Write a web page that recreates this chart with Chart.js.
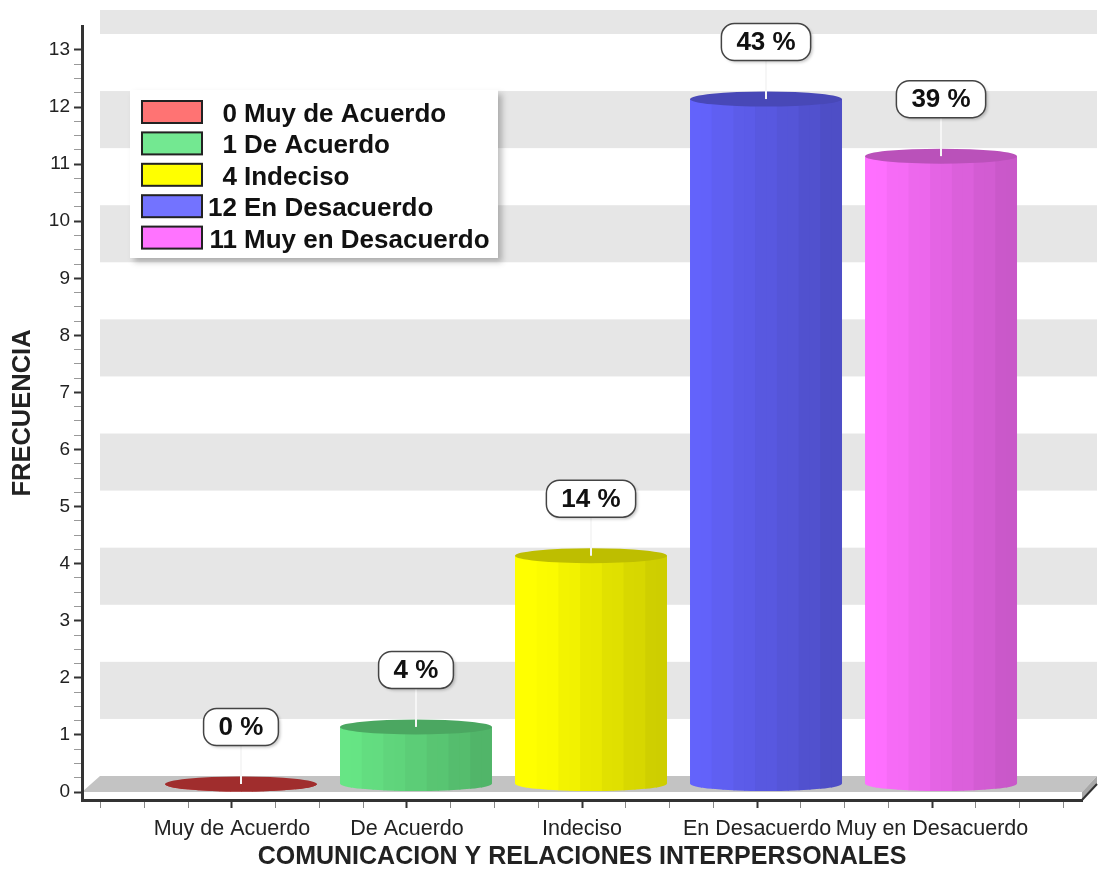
<!DOCTYPE html>
<html>
<head>
<meta charset="utf-8">
<title>Comunicación y relaciones interpersonales</title>
<script src="https://cdn.jsdelivr.net/npm/chart.js@4.4.1/dist/chart.umd.min.js"></script>
<style>
  html, body { margin: 0; padding: 0; background: #fff; }
  canvas { display: block; }
</style>
</head>
<body>
<canvas id="freqChart" width="1099" height="872"></canvas>
<script>
const categories = ['Muy de Acuerdo', 'De Acuerdo', 'Indeciso', 'En Desacuerdo', 'Muy en Desacuerdo'];
const counts = [0, 1, 4, 12, 11];
const yTickLabels = [0, 1, 2, 3, 4, 5, 6, 7, 8, 9, 10, 11, 12, 13];

const total = counts.reduce((a, b) => a + b, 0);
const percents = counts.map(c => Math.round(c / total * 100));

// legend swatches and cylinder body colours
const legendColors = ['#ff7373', '#73e891', '#ffff00', '#7373ff', '#ff73ff'];
const bodyRGB = [[205, 58, 58], [96, 214, 124], [244, 244, 0], [92, 92, 234], [238, 104, 238]];

const FONT = '"Liberation Sans", Arial, sans-serif';
const DX = 18, DY = 16;   // depth of the 3D box
const MINOR = 0.25;

Chart.defaults.font.family = FONT;

function minorTicks(from, to) {
    const out = [];
    for (let k = Math.round(from / MINOR); k * MINOR <= to + 1e-9; k++) out.push({ value: k * MINOR });
    return out;
}

const isMajor = c => !!(c.tick && Number.isInteger(c.tick.value));

function shade(rgb, f) {
    return 'rgb(' + rgb.map(c => Math.max(0, Math.min(255, Math.round(c * f)))).join(',') + ')';
}

function roundRectPath(ctx, x, y, w, h, r) {
    ctx.beginPath();
    ctx.moveTo(x + r, y);
    ctx.lineTo(x + w - r, y);
    ctx.arcTo(x + w, y, x + w, y + r, r);
    ctx.lineTo(x + w, y + h - r);
    ctx.arcTo(x + w, y + h, x + w - r, y + h, r);
    ctx.lineTo(x + r, y + h);
    ctx.arcTo(x, y + h, x, y + h - r, r);
    ctx.lineTo(x, y + r);
    ctx.arcTo(x, y, x + r, y, r);
    ctx.closePath();
}

function drawCylinder(ctx, cx, top, base, w, rgb) {
    const rx = w / 2, ry = 7.5, left = cx - rx;
    ctx.save();
    ctx.beginPath();
    ctx.moveTo(left, top);
    ctx.lineTo(left, base);
    ctx.ellipse(cx, base, rx, ry, 0, Math.PI, 0, true);
    ctx.lineTo(cx + rx, top);
    ctx.closePath();
    ctx.clip();
    const facets = 14;
    for (let k = 0; k < facets; k++) {
        const t = (k + 0.5) / facets;
        ctx.fillStyle = shade(rgb, 1.08 - 0.26 * t + (k % 2 ? 0.015 : 0));
        ctx.fillRect(left + k * w / facets, top - 1, w / facets + 1, base - top + ry + 2);
    }
    ctx.restore();
    ctx.fillStyle = shade(rgb, 0.78);
    ctx.beginPath();
    ctx.ellipse(cx, top, rx, ry, 0, 0, Math.PI * 2);
    ctx.fill();
}

// grey banded back wall and the floor slab
const backWall = {
    id: 'backWall',
    beforeDraw(chart) {
        const { ctx, chartArea: a, scales: { y } } = chart;
        const z = y.getPixelForValue(0);
        const wallRight = Math.min(a.right + DX, chart.width - 2);
        ctx.save();
        ctx.beginPath();
        ctx.rect(a.left + DX, a.top - DY, wallRight - a.left - DX, z - a.top);
        ctx.clip();
        ctx.fillStyle = '#e6e6e6';
        for (let v = 1; v < y.max + 1; v += 2) {
            const y0 = y.getPixelForValue(v + 1) - DY;
            const y1 = y.getPixelForValue(v) - DY;
            ctx.fillRect(a.left + DX, y0, wallRight - a.left - DX, y1 - y0);
        }
        ctx.restore();

        ctx.fillStyle = '#c3c3c3';
        ctx.beginPath();
        ctx.moveTo(a.left, z);
        ctx.lineTo(a.right, z);
        ctx.lineTo(wallRight, z - DY);
        ctx.lineTo(a.left + DX, z - DY);
        ctx.closePath();
        ctx.fill();

        ctx.fillStyle = '#a8a8a8';
        ctx.beginPath();
        ctx.moveTo(a.right, z);
        ctx.lineTo(wallRight, z - DY);
        ctx.lineTo(wallRight, a.bottom - DY);
        ctx.lineTo(a.right, a.bottom);
        ctx.closePath();
        ctx.fill();
        ctx.strokeStyle = '#333';
        ctx.lineWidth = 2;
        ctx.beginPath();
        ctx.moveTo(a.right, a.bottom);
        ctx.lineTo(wallRight, a.bottom - DY);
        ctx.stroke();
    }
};

// bars are drawn as cylinders instead of flat rectangles
const cylinders = {
    id: 'cylinders',
    beforeDatasetDraw() { return false; },
    afterDatasetsDraw(chart) {
        const ctx = chart.ctx;
        chart.getDatasetMeta(0).data.forEach((bar, i) => {
            drawCylinder(ctx, bar.x + DX / 2, bar.y - DY / 2, bar.base - DY / 2, bar.width, bodyRGB[i]);
        });
    }
};

// percentage call-outs and the boxed legend
const callouts = {
    id: 'callouts',
    afterDraw(chart) {
        const { ctx, chartArea: a } = chart;
        chart.getDatasetMeta(0).data.forEach((bar, i) => {
            const cx = bar.x + DX / 2, topY = bar.y - DY / 2;
            const text = percents[i] + ' %';
            ctx.font = 'bold 26px ' + FONT;
            const bw = ctx.measureText(text).width + 30, bh = 37;
            const by = topY - 57 - bh / 2;
            ctx.strokeStyle = '#f6f6f6';
            ctx.lineWidth = 2;
            ctx.beginPath();
            ctx.moveTo(cx, by + bh);
            ctx.lineTo(cx, topY);
            ctx.stroke();
            ctx.save();
            ctx.shadowColor = 'rgba(0,0,0,0.22)';
            ctx.shadowBlur = 3;
            ctx.shadowOffsetX = 2;
            ctx.shadowOffsetY = 2;
            roundRectPath(ctx, cx - bw / 2, by, bw, bh, 13);
            ctx.fillStyle = '#fff';
            ctx.fill();
            ctx.restore();
            roundRectPath(ctx, cx - bw / 2, by, bw, bh, 13);
            ctx.strokeStyle = '#444';
            ctx.lineWidth = 1.5;
            ctx.stroke();
            ctx.fillStyle = '#111';
            ctx.textAlign = 'center';
            ctx.textBaseline = 'middle';
            ctx.fillText(text, cx, by + bh / 2 + 1);
        });

        const lx = a.left + 48, ly = a.top + 64, lw = 368, lh = 168;
        ctx.save();
        ctx.shadowColor = 'rgba(0,0,0,0.25)';
        ctx.shadowBlur = 6;
        ctx.shadowOffsetX = 4;
        ctx.shadowOffsetY = 4;
        ctx.fillStyle = '#fff';
        ctx.fillRect(lx, ly, lw, lh);
        ctx.restore();
        ctx.font = 'bold 26px ' + FONT;
        ctx.textBaseline = 'alphabetic';
        categories.forEach((name, i) => {
            const sy = ly + 11 + i * 31.4;
            ctx.fillStyle = legendColors[i];
            ctx.fillRect(lx + 12, sy, 60, 22);
            ctx.strokeStyle = '#222';
            ctx.lineWidth = 2;
            ctx.strokeRect(lx + 12, sy, 60, 22);
            ctx.fillStyle = '#111';
            ctx.textAlign = 'right';
            ctx.fillText(String(counts[i]), lx + 107, sy + 21);
            ctx.textAlign = 'left';
            ctx.fillText(name, lx + 114, sy + 21);
        });
    }
};

new Chart(document.getElementById('freqChart'), {
    type: 'bar',
    data: {
        datasets: [{
            data: counts.map((v, i) => ({ x: i + 1, y: v })),
            backgroundColor: legendColors,
            barThickness: 152
        }]
    },
    options: {
        responsive: false,
        animation: false,
        devicePixelRatio: 1,
        events: [],
        layout: { padding: { top: 26, right: 17, left: 0, bottom: 0 } },
        plugins: { legend: { display: false }, tooltip: { enabled: false } },
        scales: {
            x: {
                type: 'linear',
                offset: false,
                min: 0.143,
                max: 5.857,
                afterBuildTicks: s => { s.ticks = minorTicks(MINOR, 5.75); },
                afterFit: s => { s.height = 72; },
                border: { color: '#333', width: 3 },
                grid: {
                    drawOnChartArea: false,
                    offset: false,
                    tickLength: 8,
                    tickColor: c => isMajor(c) ? '#333' : '#888',
                    tickWidth: c => isMajor(c) ? 2 : 1
                },
                ticks: {
                    autoSkip: false,
                    maxRotation: 0,
                    minRotation: 0,
                    padding: 8,
                    color: '#222',
                    font: { size: 21.5 },
                    callback: v => Number.isInteger(v) ? categories[v - 1] : ''
                },
                title: {
                    display: true,
                    text: 'COMUNICACION Y RELACIONES INTERPERSONALES',
                    color: '#222',
                    font: { size: 25, weight: 'bold', lineHeight: 1.2 },
                    padding: { top: 0, bottom: 0 }
                }
            },
            y: {
                type: 'linear',
                min: -0.14,
                max: 13.42,
                afterBuildTicks: s => { s.ticks = minorTicks(0, yTickLabels[yTickLabels.length - 1]); },
                afterFit: s => { s.width = 82; },
                border: { color: '#333', width: 3 },
                grid: {
                    drawOnChartArea: false,
                    tickLength: 8,
                    tickColor: c => isMajor(c) ? '#333' : '#999',
                    tickWidth: c => isMajor(c) ? 2 : 1
                },
                ticks: {
                    autoSkip: false,
                    padding: 4,
                    color: '#222',
                    font: { size: 19 },
                    callback: v => yTickLabels.includes(v) ? String(v) : ''
                },
                title: {
                    display: true,
                    text: 'FRECUENCIA',
                    color: '#222',
                    font: { size: 25.5, weight: 'bold', lineHeight: 1.2 },
                    padding: { top: 8, bottom: 0 }
                }
            }
        }
    },
    plugins: [backWall, cylinders, callouts]
});
</script>
</body>
</html>
